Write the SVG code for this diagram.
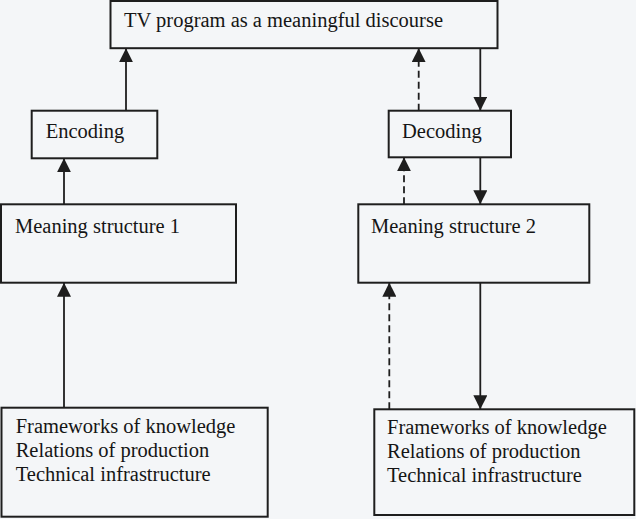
<svg xmlns="http://www.w3.org/2000/svg" width="636" height="519" viewBox="0 0 636 519">
  <defs>
    <style>
      .box { fill: none; stroke: #1e1e1e; stroke-width: 2; }
      .lbl { font-family: "Liberation Serif", "Times New Roman", serif; font-size: 20.5px; fill: #151515; }
      .conn { stroke: #1e1e1e; stroke-width: 1.8; fill: none; }
      .dash { stroke-dasharray: 7 4; }
    </style>
    <marker id="arr" viewBox="0 0 14 14" refX="14" refY="7" markerWidth="14" markerHeight="14" markerUnits="userSpaceOnUse" orient="auto">
      <path d="M0,0 L14,7 L0,14 z" fill="#1e1e1e"/>
    </marker>
  </defs>
  <rect x="0" y="0" width="636" height="519" fill="#f4f6f8"/>

  <g id="tv-program">
    <rect class="box" x="110.5" y="1" width="387" height="47.2"/>
    <text class="lbl" x="124" y="27">TV program as a meaningful discourse</text>
  </g>
  <g id="encoding">
    <rect class="box" x="31.7" y="110.7" width="125.6" height="47.6"/>
    <text class="lbl" x="45.7" y="138">Encoding</text>
  </g>
  <g id="decoding">
    <rect class="box" x="388.7" y="110.7" width="122.3" height="46.6"/>
    <text class="lbl" x="402" y="137.5">Decoding</text>
  </g>
  <g id="meaning-structure-1">
    <rect class="box" x="1" y="204.3" width="235" height="78.4"/>
    <text class="lbl" x="15" y="233">Meaning structure 1</text>
  </g>
  <g id="meaning-structure-2">
    <rect class="box" x="358.3" y="204.3" width="231" height="78.4"/>
    <text class="lbl" x="371" y="233">Meaning structure 2</text>
  </g>
  <g id="frameworks-1">
    <rect class="box" x="1.5" y="407.7" width="266.2" height="109"/>
    <text class="lbl" x="15.7" y="433">Frameworks of knowledge</text>
    <text class="lbl" x="15.7" y="457">Relations of production</text>
    <text class="lbl" x="15.7" y="481">Technical infrastructure</text>
  </g>
  <g id="frameworks-2">
    <rect class="box" x="374.3" y="409.3" width="260" height="105.7"/>
    <text class="lbl" x="387" y="433.5">Frameworks of knowledge</text>
    <text class="lbl" x="387" y="457.5">Relations of production</text>
    <text class="lbl" x="387" y="481.5">Technical infrastructure</text>
  </g>

  <g id="connectors">
    <line class="conn" x1="126" y1="110.7" x2="126" y2="48.2" marker-end="url(#arr)"/>
    <line class="conn" x1="64" y1="204.3" x2="64" y2="158.3" marker-end="url(#arr)"/>
    <line class="conn" x1="64" y1="407.7" x2="64" y2="282.7" marker-end="url(#arr)"/>
    <line class="conn dash" x1="418.7" y1="110.7" x2="418.7" y2="48.2" marker-end="url(#arr)"/>
    <line class="conn" x1="480.3" y1="48.2" x2="480.3" y2="110.7" marker-end="url(#arr)"/>
    <line class="conn dash" x1="404" y1="204.3" x2="404" y2="157.3" marker-end="url(#arr)"/>
    <line class="conn" x1="480.3" y1="157.3" x2="480.3" y2="204.3" marker-end="url(#arr)"/>
    <line class="conn dash" x1="389.3" y1="409.3" x2="389.3" y2="282.7" marker-end="url(#arr)"/>
    <line class="conn" x1="480.3" y1="282.7" x2="480.3" y2="409.3" marker-end="url(#arr)"/>
  </g>
</svg>
